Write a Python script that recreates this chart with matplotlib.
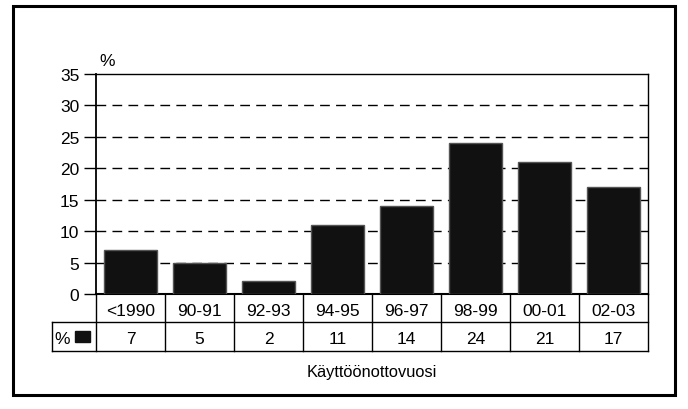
import matplotlib
matplotlib.use("Agg")
import matplotlib.pyplot as plt
from matplotlib.patches import Rectangle
from matplotlib.lines import Line2D
import matplotlib.transforms as mtransforms

plt.rcParams['font.family'] = ['Liberation Sans', 'DejaVu Sans']

categories = ["<1990", "90-91", "92-93", "94-95", "96-97", "98-99", "00-01", "02-03"]
values = [7, 5, 2, 11, 14, 24, 21, 17]
yticks = [0, 5, 10, 15, 20, 25, 30, 35]
xlabel = "Käyttöönottovuosi"
ylabel = "%"
row_label = "%"

FS = 12.5
W, H = 688, 410
fig = plt.figure(figsize=(W / 100, H / 100), dpi=100)

# outer frame
fig.add_artist(Rectangle((13 / W, 1 - 396 / H), (675 - 13) / W, (396 - 7) / H,
                         transform=fig.transFigure, fill=False, lw=2.2, color='black'))

left, right, top, bottom = 96, 648, 75, 295
ax = fig.add_axes([left / W, 1 - bottom / H, (right - left) / W, (bottom - top) / H])
x = list(range(len(categories)))
ax.bar(x, values, width=0.76, color='#111111', edgecolor='#555555', linewidth=1.0, zorder=3)
ax.set_xlim(-0.5, len(categories) - 0.5)
ax.set_ylim(0, 35)
ax.set_yticks(yticks)
ax.set_yticklabels([str(t) for t in yticks], fontsize=FS)
ax.tick_params(axis='y', length=9, width=1, direction='out', pad=3)
ax.set_xticks([])
for yv in yticks[1:-1]:
    ax.axhline(yv, color='black', lw=1.0, ls=(0, (7, 4.5)), zorder=1)
for s in ax.spines.values():
    s.set_linewidth(1.0)
ax.spines['left'].set_linewidth(1.3)
ax.spines['bottom'].set_linewidth(1.5)

ax.text(99 / W, 1 - 61 / H, ylabel, transform=fig.transFigure, fontsize=FS,
        ha='left', va='center')

# table below
ph = bottom - top
r1 = -28 / ph
r2 = -57 / ph
trans = mtransforms.blended_transform_factory(ax.transData, ax.transAxes)
xl = -0.5 - 44 / ((right - left) / len(categories))
xr = len(categories) - 0.5


def hline(x0, x1, y, lw=1.0):
    ax.add_line(Line2D([x0, x1], [y, y], transform=trans, color='black', lw=lw, clip_on=False))


def vline(xx, y0, y1, lw=1.0):
    ax.add_line(Line2D([xx, xx], [y0, y1], transform=trans, color='black', lw=lw, clip_on=False))


hline(xl, xr, r1)
hline(xl, xr, r2)
vline(xl, r1, r2)
for i in range(len(categories) + 1):
    vline(i - 0.5, 0, r2)

for i, (c, v) in enumerate(zip(categories, values)):
    ax.text(i, (0 + r1) / 2 - 0.01, c, transform=trans, ha='center', va='center', fontsize=FS)
    ax.text(i, (r1 + r2) / 2 - 0.01, str(v), transform=trans, ha='center', va='center', fontsize=FS)

ax.text(xl + 0.04, (r1 + r2) / 2 - 0.01, row_label, transform=trans, ha='left', va='center', fontsize=FS)
ax.add_patch(Rectangle((xl + 0.33, (r1 + r2) / 2 - 0.025), 0.22, 0.05, transform=trans,
                       color='#111111', clip_on=False))

fig.text(372 / W, 1 - 373 / H, xlabel, ha='center', va='center', fontsize=11.8)

fig.savefig("out.png", dpi=100)
